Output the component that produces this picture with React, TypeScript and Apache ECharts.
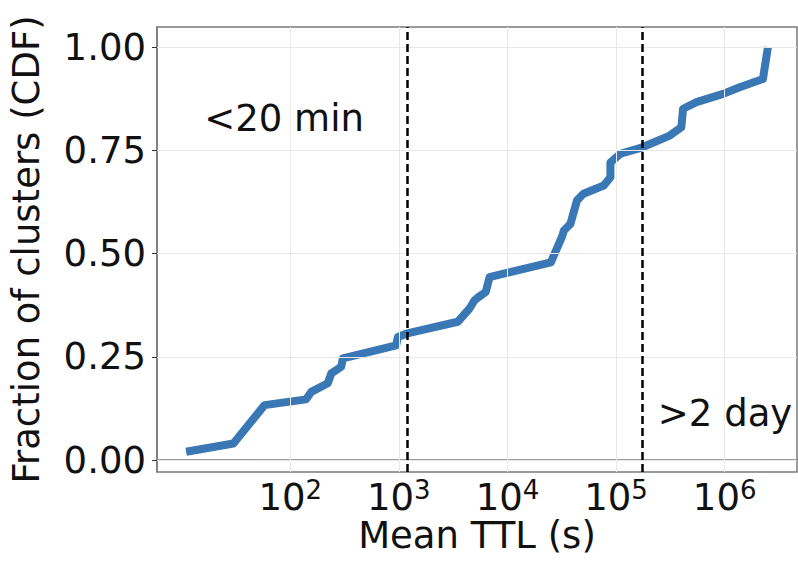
import React, { useEffect, useRef } from 'react';
import * as echarts from 'echarts';

// Mean TTL (seconds) of each CDF vertex, and the CDF value there
const ttlSeconds = [11, 30, 58, 140, 156, 222, 239, 295, 305, 946, 980, 1170, 3490, 4480, 4980, 5370, 6310, 6840, 25100, 28800, 32000, 33100, 38000, 43700, 50100, 77100, 88700, 88700, 109600, 172200, 312000, 399000, 414000, 550000, 966000, 1374000, 2249000, 2500000];
const cdfValues = [0.02, 0.04, 0.133, 0.147, 0.165, 0.186, 0.21, 0.226, 0.246, 0.278, 0.298, 0.306, 0.335, 0.367, 0.387, 0.394, 0.407, 0.443, 0.479, 0.515, 0.543, 0.556, 0.572, 0.629, 0.645, 0.665, 0.685, 0.721, 0.742, 0.757, 0.786, 0.806, 0.851, 0.867, 0.887, 0.903, 0.923, 1.0];

const xTickExponents = [2, 3, 4, 5, 6];
const yTicks = [0, 0.25, 0.5, 0.75, 1.0];
const thresholdSeconds = [1200, 172800];
const annotationTexts = ['<20 min', '>2 day'];
const annotationTtl = [16, 240000];
const annotationCdf = [0.827, 0.112];

const FONT = 'DejaVu Sans';
const TEXT = '#111111';
const SPINE = '#7a7a7a';

export default function App() {
  const ref = useRef<HTMLDivElement>(null);
  useEffect(() => {
    if (!ref.current) return;
    const chart = echarts.init(ref.current, undefined, { renderer: 'svg' });
    const logX = ttlSeconds.map((v) => Math.log10(v));
    const xMinD = Math.min(...logX);
    const xMaxD = Math.max(...logX);
    const xPad = 0.05 * (xMaxD - xMinD);
    const yMinD = Math.min(...cdfValues);
    const yMaxD = Math.max(...cdfValues);
    const yPad = 0.05 * (yMaxD - yMinD);
    const points = logX.map((x, i) => [x, cdfValues[i]]);

    const option: any = {
      animation: false,
      grid: {
        left: 157, right: 1, top: 27, bottom: 89,
        outerBoundsMode: 'none',
        containLabel: false,
        show: true, borderColor: SPINE, borderWidth: 1.5, backgroundColor: 'transparent',
      },
      xAxis: {
        type: 'value',
        min: xMinD - xPad,
        max: xMaxD + xPad,
        name: 'Mean TTL (s)',
        nameLocation: 'middle',
        nameGap: 45,
        nameMoveOverlap: false,
        nameTextStyle: { fontFamily: FONT, fontSize: 37, color: TEXT },
        axisLine: { show: true, lineStyle: { color: SPINE, width: 1.5 } },
        axisTick: { show: true, customValues: xTickExponents, length: 5, lineStyle: { color: '#333', width: 1 } },
        axisLabel: {
          customValues: xTickExponents,
          margin: 5,
          formatter: (v: number) => `{b|10}{s|${Math.round(v)}}`,
          rich: {
            b: { fontFamily: FONT, fontSize: 37, color: TEXT, lineHeight: 40 },
            s: { fontFamily: FONT, fontSize: 26, color: TEXT, verticalAlign: 'top', lineHeight: 20 },
          },
        },
        splitLine: { show: false },
      },
      yAxis: {
        type: 'value',
        min: yMinD - yPad,
        max: yMaxD + yPad,
        name: 'Fraction of clusters (CDF)',
        nameLocation: 'middle',
        nameGap: 112,
        nameMoveOverlap: false,
        nameTextStyle: { fontFamily: FONT, fontSize: 37, color: TEXT },
        axisLine: { show: true, lineStyle: { color: SPINE, width: 1.5 } },
        axisTick: { show: true, customValues: yTicks, length: 5, lineStyle: { color: '#333', width: 1 } },
        axisLabel: {
          customValues: yTicks,
          margin: 11,
          formatter: (v: number) => v.toFixed(2),
          fontFamily: FONT, fontSize: 37, color: TEXT,
        },
        splitLine: { show: false },
      },
      series: [
        {
          type: 'line',
          data: points,
          showSymbol: false,
          silent: true,
          lineStyle: { opacity: 0 },
          z: 1,
          markLine: {
            silent: true,
            symbol: ['none', 'none'],
            label: { show: false },
            lineStyle: { color: '#e8e8e8', width: 1, type: 'solid' },
            data: [
              ...xTickExponents.map((e) => ({ xAxis: e })),
              ...yTicks.map((t) => ({ yAxis: t })),
            ],
          },
        },
        {
          type: 'line',
          data: points,
          showSymbol: false,
          z: 3,
          lineStyle: { color: '#3a78b5', width: 8, cap: 'butt', join: 'round' },
        },
        {
          type: 'line',
          data: points,
          showSymbol: false,
          silent: true,
          lineStyle: { opacity: 0 },
          z: 5,
          markLine: {
            silent: true,
            symbol: ['none', 'none'],
            label: { show: false },
            lineStyle: { color: '#000', width: 2.5, type: [8, 4] },
            data: thresholdSeconds.map((t) => ({ xAxis: Math.log10(t) })),
          },
          markPoint: {
            silent: true,
            symbol: 'circle',
            symbolSize: 1,
            itemStyle: { color: 'transparent' },
            data: annotationTexts.map((txt, i) => ({
              coord: [Math.log10(annotationTtl[i]), annotationCdf[i]],
              label: {
                show: true,
                formatter: txt,
                position: 'right',
                distance: 0,
                fontFamily: FONT,
                fontSize: 37,
                color: TEXT,
              },
            })),
          },
        },
      ],
    };
    chart.setOption(option);
    return () => chart.dispose();
  }, []);
  return <div ref={ref} style={{ position: 'absolute', left: 0, top: 0, width: 798, height: 561 }} />;
}
